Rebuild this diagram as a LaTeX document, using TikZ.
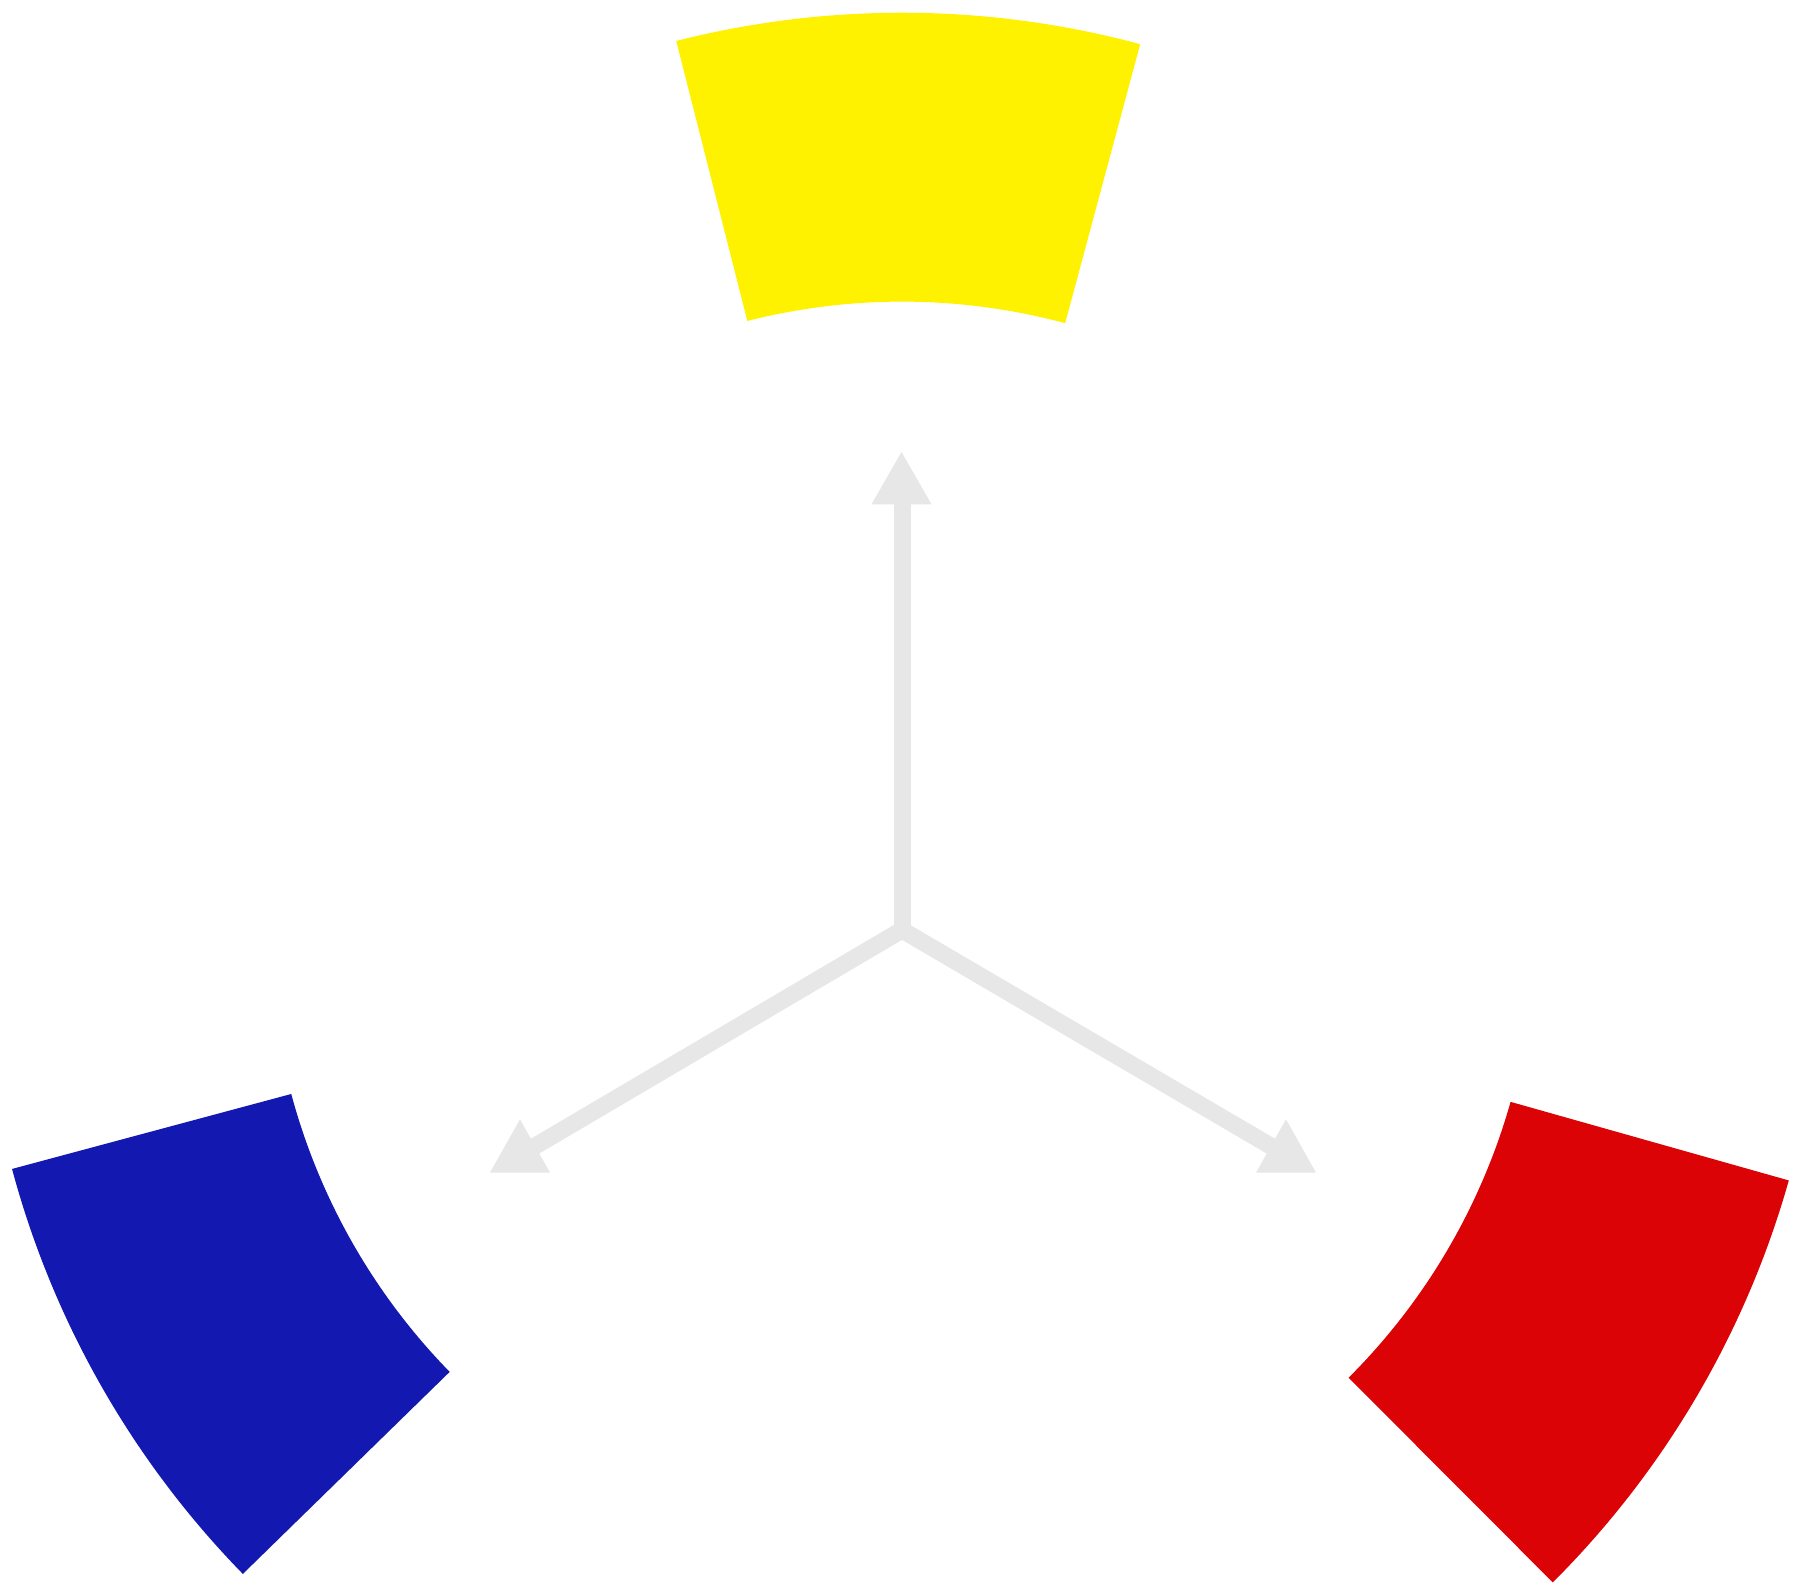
\documentclass[tikz,border=0pt]{standalone}
\usetikzlibrary{calc}
\definecolor{ycol}{RGB}{255,242,0}
\definecolor{bcol}{RGB}{18,24,176}
\definecolor{rcol}{RGB}{220,3,6}
\definecolor{gcol}{RGB}{230,231,230}
\tikzset{
  conn/.style={draw=gcol,line width=17pt},
  headtri/.style={fill=gcol},
}
\begin{document}
\begin{tikzpicture}[x=1pt,y=1pt]
\useasboundingbox (0,0) rectangle (1794,-1586);
\fill[white] (0,0) rectangle (1794,-1586);
\coordinate (c) at (902,-930);
% sectors
\fill[ycol] ($(c)+(74.95:917.3pt)$) arc[start angle=74.95,end angle=104.25,radius=917.3pt]
  -- ($(c)+(104.25:628.4pt)$) arc[start angle=104.25,end angle=74.95,radius=628.4pt] -- cycle;
\fill[bcol] ($(c)+(195.03:921.5pt)$) arc[start angle=195.03,end angle=224.33,radius=921.5pt]
  -- ($(c)+(224.33:632.4pt)$) arc[start angle=224.33,end angle=195.03,radius=632.4pt] -- cycle;
\fill[rcol] ($(c)+(-45.07:921.5pt)$) arc[start angle=-45.07,end angle=-15.77,radius=921.5pt]
  -- ($(c)+(-15.77:632.4pt)$) arc[start angle=-15.77,end angle=-45.07,radius=632.4pt] -- cycle;
% arrow ends
\coordinate (top) at (902,-492);
\coordinate (left) at (520,-1155);
\coordinate (right) at (1286,-1155);
\draw[conn] (c) -- (top);
\draw[conn] (c) -- (left);
\draw[conn] (c) -- (right);
% upright triangular heads
\fill[headtri] (901.5,-452) -- (871.5,-504.3) -- (931.5,-504.3) -- cycle;
\fill[headtri] (520,-1119.3) -- (490,-1172.7) -- (550,-1172.7) -- cycle;
\fill[headtri] (1286,-1119.3) -- (1256,-1172.7) -- (1316,-1172.7) -- cycle;
\end{tikzpicture}
\end{document}
